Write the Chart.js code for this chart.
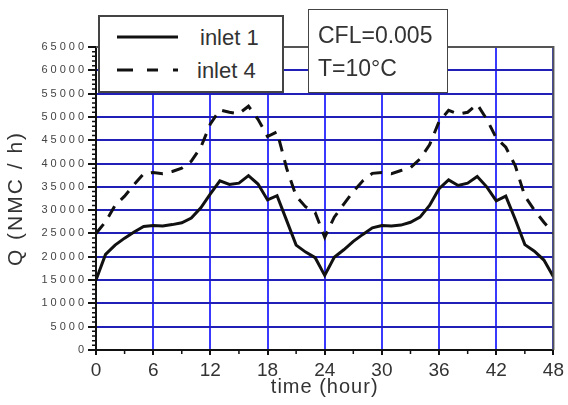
<!DOCTYPE html>
<html lang="en">
<head>
  <meta charset="UTF-8" />
  <title>Q vs time</title>
  <script src="https://cdn.jsdelivr.net/npm/chart.js"></script>
  <style>
    body { margin: 0; background: #fff; }
    .wrap { position: relative; width: 568px; height: 405px; font-family: "Liberation Sans", Arial, sans-serif; }
    canvas { position: absolute; left: 0; top: 0; }
    .box {
      position: absolute;
      background: #fff;
      border: 2px solid #444;
      box-sizing: border-box;
      color: #333;
    }
    .legend { left: 98px; top: 15px; width: 186px; height: 78px; }
    .note { left: 308px; top: 9px; width: 140px; height: 84px; border-width: 1.5px; }
    .txt { position: absolute; white-space: nowrap; line-height: 1; }
    .legend svg { position: absolute; left: 0; top: 0; }
  </style>
</head>
<body>
  <div class="wrap">
    <canvas id="qChart" width="568" height="405"></canvas>

    <div class="box legend">
      <svg width="182" height="74">
        <line x1="17" y1="20" x2="78" y2="20" stroke="#111" stroke-width="3" />
        <line x1="17" y1="53" x2="33" y2="53" stroke="#111" stroke-width="3" />
        <line x1="47" y1="53" x2="58" y2="53" stroke="#111" stroke-width="3" />
        <line x1="73" y1="53" x2="78" y2="53" stroke="#111" stroke-width="3" />
      </svg>
      <span class="txt" style="left:100px; top:10px; font-size:22px;">inlet 1</span>
      <span class="txt" style="left:97px; top:43px; font-size:22px;">inlet 4</span>
    </div>

    <div class="box note">
      <span class="txt" style="left:9px; top:14px; font-size:23px;">CFL=0.005</span>
      <span class="txt" style="left:9px; top:47px; font-size:23px;">T=10°C</span>
    </div>
  </div>

  <script>
    // time axis (hours) and flow rates
    const hours = [0, 1, 2, 3, 4, 5, 6, 7, 8, 9, 10, 11, 12, 13, 14, 15, 16, 17, 18, 19, 20, 21, 22, 23, 24,
                   25, 26, 27, 28, 29, 30, 31, 32, 33, 34, 35, 36, 37, 38, 39, 40, 41, 42, 43, 44, 45, 46, 47, 48];

    const inlet1 = [15000, 20500, 22500, 24000, 25300, 26500, 26700, 26600, 26900, 27300, 28300, 30500, 33500,
                    36300, 35500, 35800, 37400, 35600, 32200, 33100, 27800, 22500, 21000, 19800, 16000,
                    19900, 21500, 23300, 24800, 26200, 26700, 26600, 26800, 27400, 28500, 31000, 34600,
                    36500, 35300, 35800, 37200, 35000, 32000, 33000, 28000, 22600, 21200, 19300, 15700];

    const inlet4 = [25000, 27500, 31000, 33000, 35500, 37800, 38100, 37800, 38300, 39000, 40500, 43500, 48500,
                    51500, 51000, 50700, 52300, 49500, 45800, 46800, 39000, 33000, 30700, 29500, 24200,
                    28500, 31300, 34000, 36300, 37900, 38100, 37800, 38500, 39100, 41000, 44000, 49000,
                    51400, 50600, 51000, 52700, 49500, 45500, 43500, 39500, 33000, 30000, 27400, 25000];

    const xTicks = [0, 6, 12, 18, 24, 30, 36, 42, 48];
    const yMax = 65000;

    const FONT = '"Liberation Sans", Arial, sans-serif';

    function points(ys) {
      return hours.map((h, i) => ({ x: h, y: ys[i] }));
    }

    function withSpacing(fn, spacing) {
      return function (...args) {
        const ctx = this.ctx;
        ctx.save();
        ctx.letterSpacing = spacing;
        fn.apply(this, args);
        ctx.restore();
      };
    }

    // small minor ticks + grey top/right frame
    const frame = {
      id: 'frame',
      beforeDraw(chart) {
        const { x, y } = chart.scales;
        if (!y._spaced) {
          y.drawLabels = withSpacing(y.drawLabels, '3px');
          y.drawTitle = withSpacing(y.drawTitle, '2px');
          x.drawTitle = withSpacing(x.drawTitle, '1px');
          y._spaced = true;
        }
      },
      afterDraw(chart) {
        const ctx = chart.ctx;
        const a = chart.chartArea;
        const { x, y } = chart.scales;
        ctx.save();
        ctx.strokeStyle = '#555';
        ctx.lineWidth = 2;
        ctx.beginPath();
        ctx.moveTo(a.left, a.top);
        ctx.lineTo(a.right, a.top);
        ctx.lineTo(a.right, a.bottom);
        ctx.stroke();

        ctx.strokeStyle = '#111';
        ctx.lineWidth = 1.5;
        ctx.beginPath();
        for (let h = 3; h < 48; h += 6) {
          const px = x.getPixelForValue(h);
          ctx.moveTo(px, a.bottom);
          ctx.lineTo(px, a.bottom + 4);
        }
        for (let v = 1000; v < yMax; v += 1000) {
          if (v % 5000 === 0) continue;
          const py = y.getPixelForValue(v);
          ctx.moveTo(a.left - 4, py);
          ctx.lineTo(a.left, py);
        }
        ctx.stroke();
        ctx.restore();
      }
    };

    new Chart(document.getElementById('qChart').getContext('2d'), {
      type: 'line',
      data: {
        datasets: [
          {
            label: 'inlet 1',
            data: points(inlet1),
            borderColor: '#111',
            borderWidth: 3,
            pointRadius: 0,
            tension: 0
          },
          {
            label: 'inlet 4',
            data: points(inlet4),
            borderColor: '#111',
            borderWidth: 3,
            borderDash: [12, 9],
            pointRadius: 0,
            tension: 0
          }
        ]
      },
      options: {
        responsive: false,
        animation: false,
        layout: { padding: { top: 47, right: 10, left: 0, bottom: 0 } },
        plugins: {
          legend: { display: false },
          tooltip: { enabled: false }
        },
        scales: {
          x: {
            type: 'linear',
            min: 0,
            max: 48,
            afterBuildTicks: scale => { scale.ticks = xTicks.map(v => ({ value: v })); },
            afterFit: scale => { scale.height = 55; },
            grid: { color: '#3a3aff', lineWidth: 2, tickColor: '#111', tickLength: 5 },
            border: { display: true, color: '#111', width: 2 },
            ticks: { color: '#333', padding: 4, font: { family: FONT, size: 19 } },
            title: {
              display: true,
              text: 'time (hour)',
              color: '#333',
              padding: { top: 4, bottom: 6 },
              font: { family: FONT, size: 20 }
            }
          },
          y: {
            min: 0,
            max: yMax,
            afterFit: scale => { scale.width = 96; },
            grid: { color: '#2020b8', lineWidth: 2, tickColor: '#111', tickLength: 8 },
            border: { display: true, color: '#111', width: 2 },
            ticks: {
              stepSize: 5000,
              color: '#444',
              padding: 1,
              font: { family: FONT, size: 11 },
              callback: v => String(v)
            },
            title: {
              display: true,
              text: 'Q (NMC / h)',
              color: '#333',
              padding: { top: 4, bottom: 0 },
              font: { family: FONT, size: 21 }
            }
          }
        }
      },
      plugins: [frame]
    });
  </script>
</body>
</html>
